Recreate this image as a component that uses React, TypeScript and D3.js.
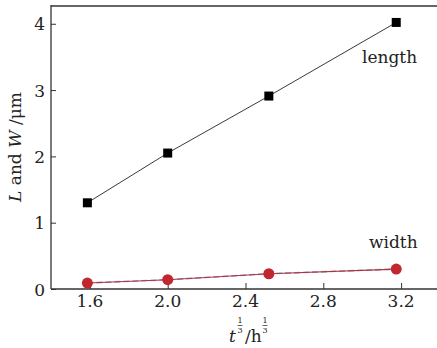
import React, { useEffect, useRef } from "react";
import * as d3 from "d3";

// t^(1/3) values (t = 4, 8, 16, 32 h)
const xValues = [1.587, 2.0, 2.52, 3.175];
const lengthValues = [1.3, 2.05, 2.91, 4.02];
const widthValues = [0.09, 0.14, 0.23, 0.3];
const xTicks = [1.6, 2.0, 2.4, 2.8, 3.2];
const yTicks = [0, 1, 2, 3, 4];

const WIDTH = 437;
const HEIGHT = 348;
const LEFT = 51;
const BOTTOM = 289;
const TOP = 6;
const FONT = "DejaVu Serif";

export default function App() {
  const gRef = useRef<SVGGElement>(null);

  useEffect(() => {
    const x = d3.scaleLinear().domain([1.4, 3.4]).range([LEFT, 440]);
    const y = d3.scaleLinear().domain([0, 4.268]).range([BOTTOM, TOP]);
    const g = d3.select(gRef.current);
    g.selectAll("*").remove();

    // top frame
    g.append("line")
      .attr("x1", LEFT).attr("x2", WIDTH).attr("y1", TOP).attr("y2", TOP)
      .attr("stroke", "#666").attr("stroke-width", 2);

    // axes, ticks pointing inward
    const xAxis = d3.axisTop(x).tickValues(xTicks).tickSize(6).tickFormat(() => "");
    g.append("g")
      .attr("transform", `translate(0,${BOTTOM})`)
      .call(xAxis as any)
      .call((s) => s.select(".domain").remove())
      .call((s) => s.selectAll(".tick line").attr("stroke", "#333"));
    g.append("line")
      .attr("x1", LEFT).attr("x2", WIDTH).attr("y1", BOTTOM).attr("y2", BOTTOM)
      .attr("stroke", "#333").attr("stroke-width", 1.3);

    const yAxis = d3.axisRight(y).tickValues(yTicks).tickSize(5).tickFormat(() => "");
    g.append("g")
      .attr("transform", `translate(${LEFT},0)`)
      .call(yAxis as any)
      .call((s) => s.select(".domain").remove())
      .call((s) => s.selectAll(".tick line").attr("stroke", "#333"));
    g.append("line")
      .attr("x1", LEFT).attr("x2", LEFT).attr("y1", TOP - 1).attr("y2", BOTTOM)
      .attr("stroke", "#333").attr("stroke-width", 1.3);

    // tick labels
    g.append("g")
      .selectAll("text")
      .data(xTicks)
      .join("text")
      .attr("x", (d) => x(d))
      .attr("y", BOTTOM + 18)
      .attr("text-anchor", "middle")
      .attr("font-family", FONT)
      .attr("font-size", 17)
      .attr("fill", "#222")
      .text((d) => d3.format(".1f")(d));

    g.append("g")
      .selectAll("text")
      .data(yTicks)
      .join("text")
      .attr("x", LEFT - 6)
      .attr("y", (d) => y(d) + 6.5)
      .attr("text-anchor", "end")
      .attr("font-family", FONT)
      .attr("font-size", 17)
      .attr("fill", "#222")
      .text((d) => String(d));

    const pts = (vals: number[]) => xValues.map((v, i) => [v, vals[i]] as [number, number]);
    const line = d3.line<[number, number]>().x((d) => x(d[0])).y((d) => y(d[1]));

    // length series
    g.append("path")
      .attr("d", line(pts(lengthValues)))
      .attr("fill", "none")
      .attr("stroke", "#222")
      .attr("stroke-width", 0.9);
    g.append("g")
      .selectAll("rect")
      .data(pts(lengthValues))
      .join("rect")
      .attr("x", (d) => x(d[0]) - 4.5)
      .attr("y", (d) => y(d[1]) - 4.5)
      .attr("width", 9)
      .attr("height", 9)
      .attr("fill", "#000");

    // width series
    g.append("path")
      .attr("d", line(pts(widthValues)))
      .attr("fill", "none")
      .attr("stroke", "#8fa3d6")
      .attr("stroke-width", 1.6)
      .attr("stroke-dasharray", "6,3");
    g.append("path")
      .attr("d", line(pts(widthValues)))
      .attr("fill", "none")
      .attr("stroke", "#b0323a")
      .attr("stroke-width", 1.1);
    g.append("g")
      .selectAll("circle")
      .data(pts(widthValues))
      .join("circle")
      .attr("cx", (d) => x(d[0]))
      .attr("cy", (d) => y(d[1]))
      .attr("r", 5.5)
      .attr("fill", "#c1272d");
  }, []);

  const frac = (cx: number) => (
    <g fontFamily={FONT} fontSize={8} fill="#222">
      <text x={cx} y={323} textAnchor="middle">1</text>
      <line x1={cx - 2.5} x2={cx + 2.5} y1={325.5} y2={325.5} stroke="#222" strokeWidth={0.7} />
      <text x={cx} y={333} textAnchor="middle">3</text>
    </g>
  );

  return (
    <div style={{ position: "absolute", left: 0, top: 0 }}>
      <svg width={WIDTH} height={HEIGHT} style={{ display: "block", background: "#fff" }}>
        <g ref={gRef}></g>
        <text x={362} y={63} fontFamily={FONT} fontSize={17} fill="#222">length</text>
        <text x={369} y={248} fontFamily={FONT} fontSize={17} fill="#222">width</text>
        {/* x title */}
        <text x={229} y={342} fontFamily={FONT} fontSize={17} fontStyle="italic" fill="#222">t</text>
        {frac(240)}
        <text x={245} y={342} fontFamily={FONT} fontSize={17} fill="#222">/h</text>
        {frac(265)}
        {/* y title */}
        <text
          transform="translate(21,147) rotate(-90)"
          textAnchor="middle"
          fontFamily={FONT}
          fontSize={17}
          fill="#222"
        >
          <tspan fontStyle="italic">L</tspan> and <tspan fontStyle="italic">W</tspan> /μm
        </text>
      </svg>
    </div>
  );
}
